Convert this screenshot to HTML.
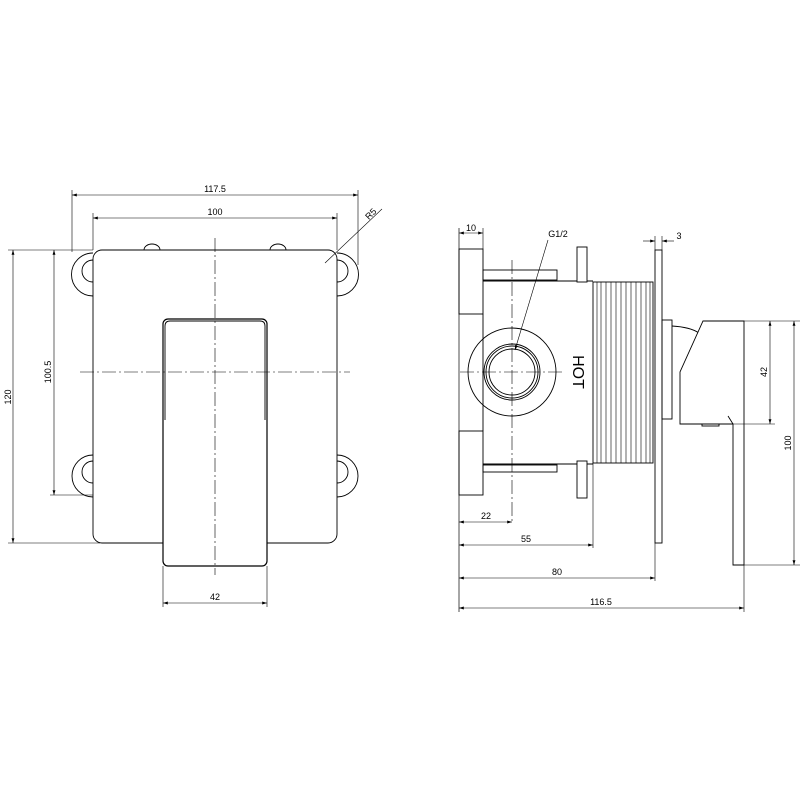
<!DOCTYPE html>
<html><head><style>body{margin:0;background:#fff}svg{display:block}</style></head><body>
<svg width="800" height="800" viewBox="0 0 800 800" xmlns="http://www.w3.org/2000/svg" font-family="Liberation Sans, sans-serif" font-size="9" fill="none" stroke="#000" stroke-width="1">
<defs><marker id="a" viewBox="0 0 10 6" refX="10" refY="3" markerWidth="8" markerHeight="5" orient="auto-start-reverse"><path d="M0,0L10,3L0,6z" fill="#000" stroke="none"/></marker></defs>
<!-- LEFT VIEW -->
<g stroke-width="0.9">
<!-- lugs -->
<path d="M93,253 A20,20 0 0 0 93,296"/><path d="M93,260 A10,10 0 0 0 93,282"/>
<path d="M93,455 A20,20 0 0 0 93,497"/><path d="M93,461 A10,10 0 0 0 93,483"/>
<path d="M337,253 A20,20 0 0 1 337,296"/><path d="M337,260 A10,10 0 0 1 337,282"/>
<path d="M337,455 A20,20 0 0 1 337,497"/><path d="M337,461 A10,10 0 0 1 337,483"/>
<path d="M144,250 A8,6 0 0 1 160,250"/><path d="M270,250 A8,6 0 0 1 286,250"/>
<rect x="93" y="250" width="244" height="293" rx="9" fill="#fff"/>
<rect x="163" y="319" width="104" height="247" rx="5" fill="#fff" stroke-width="1.2"/>
<path d="M165,420 V326 Q165,321 170,321 H260 Q265,321 265,326 V420"/>
</g>
<g stroke-width="0.6" stroke-dasharray="14,3,2,3">
<line x1="215" y1="238" x2="215" y2="575"/><line x1="80" y1="372" x2="350" y2="372"/>
</g>
<g stroke-width="0.6">
<line x1="72" y1="190" x2="72" y2="252"/><line x1="358" y1="190" x2="358" y2="265"/>
<line x1="72" y1="195" x2="358" y2="195" marker-start="url(#a)" marker-end="url(#a)"/>
<line x1="93" y1="213" x2="93" y2="250"/><line x1="337" y1="213" x2="337" y2="250"/>
<line x1="93" y1="218" x2="337" y2="218" marker-start="url(#a)" marker-end="url(#a)"/>
<line x1="8" y1="250" x2="93" y2="250"/><line x1="8" y1="543" x2="100" y2="543"/>
<line x1="13" y1="250" x2="13" y2="543" marker-start="url(#a)" marker-end="url(#a)"/>
<line x1="50" y1="495" x2="93" y2="495"/>
<line x1="54" y1="250" x2="54" y2="495" marker-start="url(#a)" marker-end="url(#a)"/>
<line x1="163" y1="566" x2="163" y2="607"/><line x1="267" y1="566" x2="267" y2="607"/>
<line x1="163" y1="603" x2="267" y2="603" marker-start="url(#a)" marker-end="url(#a)"/>
<line x1="325" y1="263" x2="382" y2="209"/>
</g>
<g fill="#000" stroke="none">
<text x="215" y="192" text-anchor="middle">117.5</text>
<text x="215" y="215" text-anchor="middle">100</text>
<text x="215" y="600" text-anchor="middle">42</text>
<text transform="translate(11,397) rotate(-90)" text-anchor="middle">120</text>
<text transform="translate(51,372) rotate(-90)" text-anchor="middle">100.5</text>
<text transform="translate(373,216) rotate(-45)" text-anchor="middle">R5</text>
</g>
<!-- RIGHT VIEW -->
<g stroke-width="0.9">
<line x1="459" y1="228" x2="459" y2="612" stroke-width="0.7"/>
<rect x="459" y="249" width="24" height="65"/><rect x="459" y="431" width="24" height="64"/>
<rect x="483" y="270" width="74" height="10"/><rect x="483" y="465" width="74" height="7"/>
<path d="M483,281 H577 M483,464 H577"/>
<line x1="483" y1="314" x2="483" y2="431"/>
<rect x="577" y="247" width="10" height="35" fill="#fff"/><rect x="577" y="461" width="10" height="37" fill="#fff"/>
<path d="M587,281 H593 M587,464 H593"/>
<rect x="593" y="282" width="60" height="181"/>
<rect x="655" y="250" width="7" height="293"/>
<rect x="662" y="320" width="10" height="99"/>
<path d="M672,326 Q690,327 699,333"/>
<path d="M703,321 H744 V565 H733 V424 H680 V372 Z" fill="#fff"/>
<path d="M728,416 L733,424"/>
<rect x="702" y="424" width="17" height="2"/>
<circle cx="512" cy="372" r="44"/><circle cx="512" cy="372" r="28"/><circle cx="512" cy="372" r="26"/><circle cx="512" cy="372" r="23"/>
</g>
<g stroke-width="0.6">
<line x1="597" y1="282" x2="597" y2="463"/><line x1="601" y1="282" x2="601" y2="463"/><line x1="606" y1="282" x2="606" y2="463"/><line x1="611" y1="282" x2="611" y2="463"/><line x1="616" y1="282" x2="616" y2="463"/><line x1="621" y1="282" x2="621" y2="463"/><line x1="626" y1="282" x2="626" y2="463"/><line x1="631" y1="282" x2="631" y2="463"/><line x1="636" y1="282" x2="636" y2="463"/><line x1="641" y1="282" x2="641" y2="463"/><line x1="646" y1="282" x2="646" y2="463"/><line x1="650" y1="282" x2="650" y2="463"/>
</g>
<g stroke-width="0.6" stroke-dasharray="14,3,2,3">
<line x1="512" y1="260" x2="512" y2="522"/><line x1="460" y1="372" x2="565" y2="372"/>
</g>
<g stroke-width="0.6">
<line x1="483" y1="228" x2="483" y2="249"/>
<line x1="459" y1="233" x2="483" y2="233" marker-start="url(#a)" marker-end="url(#a)"/>
<line x1="655" y1="236" x2="655" y2="250"/><line x1="662" y1="236" x2="662" y2="250"/>
<line x1="643" y1="241" x2="655" y2="241" marker-end="url(#a)"/><line x1="674" y1="241" x2="662" y2="241" marker-end="url(#a)"/>
<line x1="548" y1="240" x2="515" y2="350" marker-end="url(#a)"/>
<line x1="459" y1="522" x2="512" y2="522" marker-start="url(#a)" marker-end="url(#a)"/>
<line x1="593" y1="463" x2="593" y2="548"/>
<line x1="459" y1="545" x2="593" y2="545" marker-start="url(#a)" marker-end="url(#a)"/>
<line x1="655" y1="543" x2="655" y2="581"/>
<line x1="459" y1="578" x2="655" y2="578" marker-start="url(#a)" marker-end="url(#a)"/>
<line x1="744" y1="565" x2="744" y2="612"/>
<line x1="459" y1="608" x2="744" y2="608" marker-start="url(#a)" marker-end="url(#a)"/>
<line x1="744" y1="321" x2="800" y2="321"/><line x1="680" y1="424" x2="775" y2="424"/><line x1="744" y1="565" x2="800" y2="565"/>
<line x1="770" y1="321" x2="770" y2="424" marker-start="url(#a)" marker-end="url(#a)"/>
<line x1="794" y1="321" x2="794" y2="565" marker-start="url(#a)" marker-end="url(#a)"/>
</g>
<g fill="#000" stroke="none">
<text x="471" y="231" text-anchor="middle">10</text>
<text x="558" y="237" text-anchor="middle">G1/2</text>
<text x="679" y="239" text-anchor="middle">3</text>
<text x="486" y="519" text-anchor="middle">22</text>
<text x="526" y="542" text-anchor="middle">55</text>
<text x="557" y="575" text-anchor="middle">80</text>
<text x="601" y="605" text-anchor="middle">116.5</text>
<text transform="translate(767,372) rotate(-90)" text-anchor="middle">42</text>
<text transform="translate(791,443) rotate(-90)" text-anchor="middle">100</text>
<text transform="translate(573,372) rotate(90)" text-anchor="middle" font-size="16">HOT</text>
</g>
</svg>
</body></html>
